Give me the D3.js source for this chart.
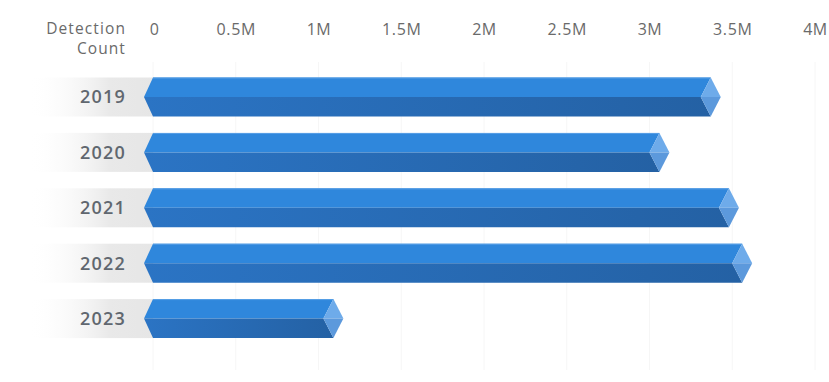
<!DOCTYPE html>
<html><head><meta charset="utf-8">
<script src="https://cdn.jsdelivr.net/npm/d3@7/dist/d3.min.js"></script>
<style>html,body{margin:0;padding:0;background:#fff;}svg{display:block;font-family:"Open Sans",sans-serif;}</style>
</head><body><svg id="c" width="829" height="382"></svg>
<script>
const years = ["2019","2020","2021","2022","2023"];
const detections = [3370000, 3060000, 3480000, 3560000, 1090000];
const tickValues = [0,500000,1000000,1500000,2000000,2500000,3000000,3500000,4000000];
const tickLabels = ["0","0.5M","1M","1.5M","2M","2.5M","3M","3.5M","4M"];
const axisTitle = ["Detection","Count"];

const svg = d3.select("#c");
const x = d3.scaleLinear().domain([0,4000000]).range([153,815]);
const y = d3.scaleBand().domain(years).range([61.1,354.5]).padding(0.296);
const bw = y.bandwidth();
const tip = 9, cap = 10;

const defs = svg.append("defs");
const lg = defs.append("linearGradient").attr("id","lbl").attr("x1","0").attr("x2","1");
lg.append("stop").attr("offset","0").attr("stop-color","#ffffff").attr("stop-opacity",0);
lg.append("stop").attr("offset","0.65").attr("stop-color","#e9e9e9");
lg.append("stop").attr("offset","1").attr("stop-color","#e6e6e6");
const bg = defs.append("linearGradient").attr("id","bot").attr("x1","0").attr("x2","1");
bg.append("stop").attr("offset","0").attr("stop-color","#2b74c4");
bg.append("stop").attr("offset","1").attr("stop-color","#2461a4");

// gridlines
svg.append("g").selectAll("line").data(tickValues).join("line")
  .attr("x1",d=>x(d)).attr("x2",d=>x(d)).attr("y1",62).attr("y2",370)
  .attr("stroke","#f6f6f6").attr("stroke-width",1);

// axis
const axis = d3.axisTop(x).tickValues(tickValues).tickFormat((d,i)=>tickLabels[i]).tickSize(0).tickPadding(0);
const ag = svg.append("g").attr("transform","translate(0,35)").call(axis);
ag.select(".domain").remove();
ag.selectAll("text").attr("font-size",16).attr("letter-spacing","0.6px").attr("fill","#6a6a6a")
  .attr("font-family","'Open Sans',sans-serif").attr("dy",0).attr("y",0);
ag.selectAll(".tick").filter(d=>d===0).select("text").attr("dx",1);

svg.append("g").selectAll("text").data(axisTitle).join("text")
  .attr("text-anchor","end").attr("font-size",15.5).attr("letter-spacing","1.1px").attr("fill","#6a6a6a")
  .attr("x",126).attr("y",(d,i)=>34+i*20).text(d=>d);

const rows = svg.append("g").selectAll("g").data(years).join("g")
  .attr("transform",d=>`translate(0,${y(d)})`);

rows.append("rect").attr("x",28).attr("y",0).attr("width",x(0)-28).attr("height",bw).attr("fill","url(#lbl)");
rows.append("text").attr("x",126).attr("y",bw/2).attr("dy","0.36em").attr("text-anchor","end")
  .attr("font-size",18).attr("letter-spacing","1.2px").attr("font-weight",600).attr("fill","#60676f").text(d=>d);

const x0 = x(0), h = bw, m = bw/2;
rows.each(function(d,i){
  const g = d3.select(this);
  const xe = x(detections[i]);
  g.append("path").attr("d",`M${x0-tip},${m} L${x0},0 L${xe},0 L${xe-cap},${m} Z`).attr("fill","#2f87dc");
  g.append("path").attr("d",`M${x0-tip},${m} L${xe-cap},${m} L${xe},${h} L${x0},${h} Z`).attr("fill","url(#bot)");
  g.append("line").attr("x1",x0).attr("x2",xe).attr("y1",0.5).attr("y2",0.5).attr("stroke","#5aa0e6").attr("stroke-width",1);
  g.append("path").attr("d",`M${xe},0 L${xe+cap},${m} L${xe-cap},${m} Z`).attr("fill","#6eabea");
  g.append("path").attr("d",`M${xe-cap},${m} L${xe+cap},${m} L${xe},${h} Z`).attr("fill","#5c99dc");
});
</script></body></html>
